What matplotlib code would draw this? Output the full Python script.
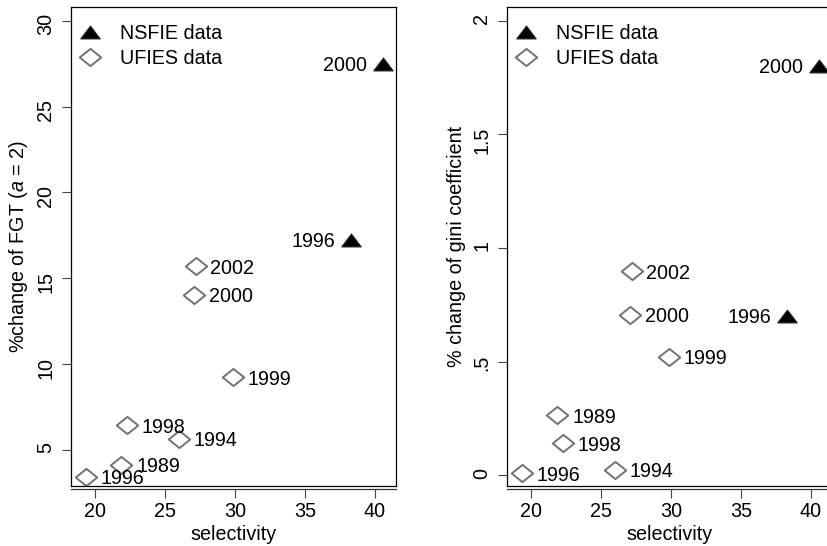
import numpy as np
import matplotlib
matplotlib.use("Agg")
import matplotlib.pyplot as plt
from matplotlib.path import Path


# DATA:

nsfie_years = ["1996", "2000"]
nsfie_sel = [38.3, 40.6]
nsfie_fgt = [17.2, 27.5]
nsfie_gini = [0.70, 1.80]

ufies_years = ["1989", "1994", "1996", "1998", "1999", "2000", "2002"]
ufies_sel = [21.9, 26.0, 19.4, 22.3, 29.85, 27.1, 27.2]
ufies_fgt = [4.15, 5.65, 3.45, 6.43, 9.25, 14.05, 15.7]
ufies_gini = [0.264, 0.025, 0.01, 0.142, 0.522, 0.707, 0.899]

x_ticks = [20, 25, 30, 35, 40]
fgt_ticks = [5, 10, 15, 20, 25, 30]
fgt_ticklabels = ["5", "10", "15", "20", "25", "30"]
gini_ticks = [0, 0.5, 1, 1.5, 2]
gini_ticklabels = ["0", ".5", "1", "1.5", "2"]


# STYLE:

plt.rcParams["font.family"] = ["Liberation Sans", "DejaVu Sans"]
plt.rcParams["mathtext.fontset"] = "custom"
plt.rcParams["mathtext.rm"] = "Liberation Sans"
plt.rcParams["mathtext.it"] = "Liberation Sans:italic"

FS = 14.2

# flat stata-like markers
DIAMOND = Path([(-1, 0), (0, 0.8), (1, 0), (0, -0.8), (-1, 0)],
               [Path.MOVETO, Path.LINETO, Path.LINETO, Path.LINETO, Path.CLOSEPOLY])
TRIANGLE = Path([(-1, -0.66), (1, -0.66), (0, 0.66), (-1, -0.66)],
                [Path.MOVETO, Path.LINETO, Path.LINETO, Path.CLOSEPOLY])
GRAY = "#727272"


def draw_panel(ax, yvals_n, yvals_u, ylim, yticks, yticklabels, ylabel):
    ax.plot(nsfie_sel, yvals_n, linestyle="none", marker=TRIANGLE, markersize=14,
            markerfacecolor="black", markeredgecolor="#222222", markeredgewidth=0.8,
            label="NSFIE data", clip_on=False)
    ax.plot(ufies_sel, yvals_u, linestyle="none", marker=DIAMOND, markersize=15.5,
            markerfacecolor="none", markeredgecolor=GRAY, markeredgewidth=1.4,
            label="UFIES data", clip_on=False)

    for x, y, t in zip(nsfie_sel, yvals_n, nsfie_years):
        ax.annotate(t, (x, y), xytext=(-11.5, -1), textcoords="offset points",
                    ha="right", va="center", fontsize=FS)
    for x, y, t in zip(ufies_sel, yvals_u, ufies_years):
        ax.annotate(t, (x, y), xytext=(10.5, -1.5), textcoords="offset points",
                    ha="left", va="center", fontsize=FS)

    ax.set_xlim(18.3, 41.5)
    ax.set_ylim(*ylim)
    ax.set_xticks(x_ticks)
    ax.set_yticks(yticks)
    ax.set_yticklabels(yticklabels)
    ax.tick_params(axis="both", length=6.5, width=0.8, labelsize=FS, color="#444444")
    ax.tick_params(axis="y", labelrotation=90, pad=5)
    ax.tick_params(axis="x", pad=3)
    for s in ax.spines.values():
        s.set_linewidth(0.9)
    ax.spines["bottom"].set_position(("outward", 2.2))
    ax.spines["bottom"].set_color("#333333")
    # plot region frame above the x axis line
    ax.axhline(ylim[0], color="black", linewidth=0.9, clip_on=False)

    ax.set_xlabel("selectivity", fontsize=FS, labelpad=3)
    ax.set_ylabel(ylabel, fontsize=FS, labelpad=4)

    leg = ax.legend(loc="upper left", bbox_to_anchor=(0, 0.983), frameon=False,
                    fontsize=FS, handletextpad=1.0, labelspacing=0.3,
                    borderaxespad=0.3, borderpad=0.16, handlelength=1.0)
    return leg


fig = plt.figure(figsize=(8.28, 5.46), dpi=100)
ax1 = fig.add_axes([71 / 828, 60 / 546, 325 / 828, 479 / 546])
ax2 = fig.add_axes([507 / 828, 60 / 546, 325 / 828, 479 / 546])

draw_panel(ax1, nsfie_fgt, ufies_fgt, (2.9, 30.8), fgt_ticks, fgt_ticklabels,
           "%change of FGT ($\\mathit{a}$ = 2)")
draw_panel(ax2, nsfie_gini, ufies_gini, (-0.047, 2.06), gini_ticks, gini_ticklabels,
           "% change of gini coefficient")

fig.savefig("out.png", dpi=100)
